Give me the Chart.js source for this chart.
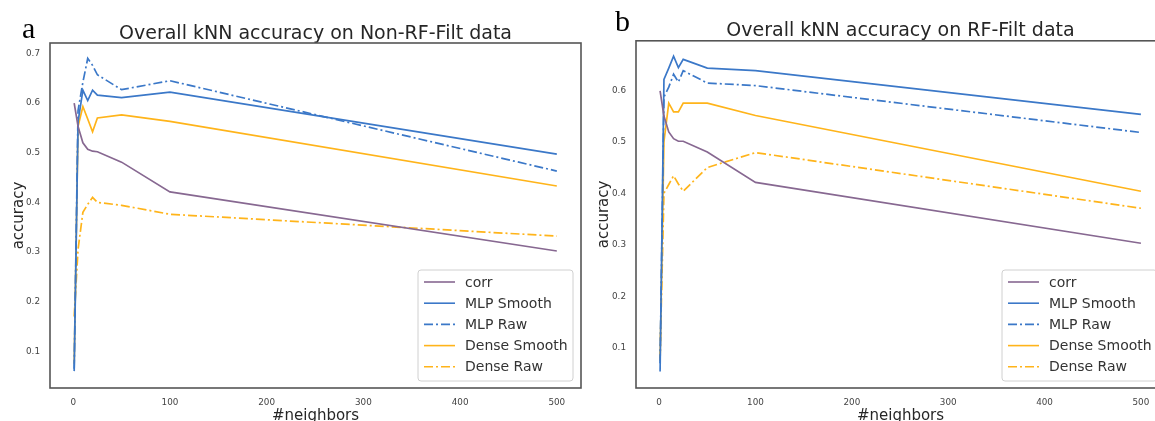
<!DOCTYPE html>
<html>
<head>
<meta charset="utf-8">
<script src="https://cdn.jsdelivr.net/npm/chart.js@4.4.1/dist/chart.umd.min.js"></script>
<style>
  html, body { margin:0; padding:0; background:#fff; }
  #wrap { position:relative; width:1155px; height:421px; overflow:hidden; background:#fff; }
  canvas { position:absolute; top:0; }
  .tag { position:absolute; font-family:"Liberation Serif", "DejaVu Serif", serif; font-size:30px; line-height:30px; color:#000; }
</style>
</head>
<body>
<div id="wrap">
  <canvas id="chartA" width="600" height="421" style="left:0"></canvas>
  <canvas id="chartB" width="600" height="421" style="left:583px"></canvas>
  <div class="tag" style="left:22px;top:13px">a</div>
  <div class="tag" style="left:615px;top:6px">b</div>
</div>
<script>
// --- data ---
const neighbors = [1, 5, 10, 15, 20, 25, 50, 100, 500];
const xTicks = [0, 100, 200, 300, 400, 500];
const yTicksA = [0.1, 0.2, 0.3, 0.4, 0.5, 0.6, 0.7];
const yTicksB = [0.1, 0.2, 0.3, 0.4, 0.5, 0.6];
const seriesNames = ['corr', 'MLP Smooth', 'MLP Raw', 'Dense Smooth', 'Dense Raw'];

// panel a: Non-RF-Filt
const corrA        = [0.600, 0.553, 0.520, 0.507, 0.503, 0.502, 0.481, 0.421, 0.302];
const mlpSmoothA   = [0.060, 0.562, 0.626, 0.605, 0.626, 0.616, 0.611, 0.622, 0.497];
const mlpRawA      = [0.065, 0.585, 0.642, 0.690, 0.676, 0.657, 0.627, 0.645, 0.463];
const denseSmoothA = [0.075, 0.553, 0.593, 0.568, 0.542, 0.570, 0.576, 0.563, 0.433];
const denseRawA    = [0.170, 0.305, 0.380, 0.396, 0.410, 0.400, 0.394, 0.376, 0.332];

// panel b: RF-Filt
const corrB        = [0.599, 0.550, 0.519, 0.506, 0.501, 0.501, 0.480, 0.421, 0.303];
const mlpSmoothB   = [0.054, 0.621, 0.643, 0.666, 0.644, 0.660, 0.643, 0.638, 0.553];
const mlpRawB      = [0.070, 0.587, 0.606, 0.631, 0.616, 0.638, 0.614, 0.609, 0.518];
const denseSmoothB = [0.075, 0.500, 0.575, 0.558, 0.558, 0.575, 0.575, 0.551, 0.404];
const denseRawB    = [0.080, 0.400, 0.417, 0.434, 0.418, 0.404, 0.450, 0.479, 0.371];

// --- styles ---
const PURPLE = '#876891', BLUE = '#3b78c8', YELLOW = '#ffb41a';
const DASHDOT = [9, 3, 2, 3];
const FONT = '"DejaVu Sans", "Open Sans", sans-serif';
const styles = [
  { color: PURPLE, dash: [] },
  { color: BLUE, dash: [] },
  { color: BLUE, dash: DASHDOT },
  { color: YELLOW, dash: [] },
  { color: YELLOW, dash: DASHDOT }
];

function makeDatasets(seriesList) {
  return seriesList.map((vals, i) => ({
    label: seriesNames[i],
    data: neighbors.map((k, j) => ({ x: k, y: vals[j] })),
    borderColor: styles[i].color,
    backgroundColor: styles[i].color,
    borderDash: styles[i].dash,
    borderWidth: 1.7,
    pointRadius: 0,
    tension: 0,
    fill: false
  }));
}

// frame round the axes
const framePlugin = {
  id: 'frame',
  afterDatasetsDraw(chart) {
    const a = chart.chartArea, ctx = chart.ctx;
    ctx.save();
    ctx.strokeStyle = '#555';
    ctx.lineWidth = 1.6;
    ctx.strokeRect(a.left, a.top, a.right - a.left, a.bottom - a.top);
    ctx.restore();
  }
};

// matplotlib-like legend in lower right corner
const boxLegend = {
  id: 'boxLegend',
  afterDraw(chart) {
    const a = chart.chartArea, ctx = chart.ctx;
    const w = 155, h = 111;
    const x0 = a.right - 8 - w, y0 = a.bottom - 7 - h;
    ctx.save();
    ctx.beginPath();
    ctx.roundRect(x0, y0, w, h, 3);
    ctx.fillStyle = 'rgba(255,255,255,0.85)';
    ctx.fill();
    ctx.strokeStyle = '#d0d0d0';
    ctx.lineWidth = 1;
    ctx.stroke();
    ctx.font = '14px ' + FONT;
    ctx.textBaseline = 'middle';
    chart.data.datasets.forEach((ds, i) => {
      const y = y0 + 12 + i * 21.2;
      ctx.beginPath();
      ctx.setLineDash(ds.borderDash);
      ctx.strokeStyle = ds.borderColor;
      ctx.lineWidth = 1.6;
      ctx.moveTo(x0 + 6, y);
      ctx.lineTo(x0 + 37, y);
      ctx.stroke();
      ctx.setLineDash([]);
      ctx.fillStyle = '#333';
      ctx.fillText(ds.label, x0 + 47, y + 1);
    });
    ctx.restore();
  }
};

function makeChart(id, title, seriesList, yTicks, yMin, yMax, yWidth, padRight, yTitlePad, titleTop) {
  new Chart(document.getElementById(id), {
    type: 'line',
    data: { datasets: makeDatasets(seriesList) },
    options: {
      responsive: false,
      animation: false,
      layout: { padding: { left: 0, right: padRight, top: 0, bottom: 0 } },
      plugins: {
        legend: { display: false },
        tooltip: { enabled: false },
        title: {
          display: true,
          text: title,
          fullSize: false,
          color: '#262626',
          font: { family: FONT, size: 19, weight: 'normal', lineHeight: 1.2 },
          padding: { top: titleTop, bottom: -2 }
        }
      },
      scales: {
        x: {
          type: 'linear',
          min: -24, max: 525,
          afterBuildTicks: s => { s.ticks = xTicks.map(v => ({ value: v })); },
          afterFit: s => { s.height = 33; },
          grid: { display: false, drawTicks: false },
          border: { display: false },
          ticks: { color: '#444', font: { family: FONT, size: 8.8 }, padding: 9, maxRotation: 0 },
          title: { display: true, text: '#neighbors', color: '#262626',
                   font: { family: FONT, size: 15, lineHeight: 1 }, padding: { top: 0, bottom: -3 } }
        },
        y: {
          min: yMin, max: yMax,
          afterBuildTicks: s => { s.ticks = yTicks.map(v => ({ value: v })); },
          afterFit: s => { s.width = yWidth; },
          grid: { display: false, drawTicks: false },
          border: { display: false },
          ticks: { color: '#444', font: { family: FONT, size: 8.8 }, padding: 10,
                   callback: v => v.toFixed(1) },
          title: { display: true, text: 'accuracy', color: '#262626',
                   font: { family: FONT, size: 15, lineHeight: 1.2 }, padding: { top: yTitlePad, bottom: 0 } }
        }
      }
    },
    plugins: [framePlugin, boxLegend]
  });
}

makeChart('chartA', 'Overall kNN accuracy on Non-RF-Filt data',
  [corrA, mlpSmoothA, mlpRawA, denseSmoothA, denseRawA], yTicksA, 0.026, 0.721, 50, 19, 10, 22.2);
makeChart('chartB', 'Overall kNN accuracy on RF-Filt data',
  [corrB, mlpSmoothB, mlpRawB, denseSmoothB, denseRawB], yTicksB, 0.022, 0.696, 53, 18, 12, 20);
</script>
</body>
</html>
